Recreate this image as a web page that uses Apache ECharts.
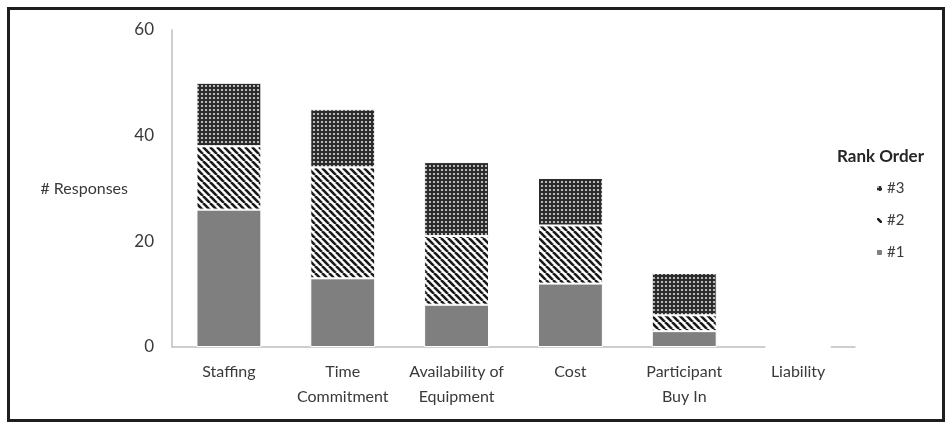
<!DOCTYPE html>
<html>
<head>
<meta charset="utf-8">
<script src="https://cdn.jsdelivr.net/npm/echarts@6/dist/echarts.min.js"></script>
<style>
  html, body { margin: 0; padding: 0; background: #fff; }
  #chart { width: 949px; height: 424px; }
</style>
</head>
<body>
<div id="chart"></div>
<script>
// Barriers ranked by respondents, stacked by rank
const categories = ['Staffing', 'Time\nCommitment', 'Availability of\nEquipment', 'Cost', 'Participant\nBuy In', 'Liability'];
const rank1 = [26, 13, 8, 12, 3, 0];
const rank2 = [12, 21, 13, 11, 3, 0];
const rank3 = [12, 11, 14, 9, 8, 0];
const seriesNames = ['#1', '#2', '#3'];
const legendOrder = ['#3', '#2', '#1'];
const yTicks = { min: 0, max: 60, interval: 20 };

// Fill patterns drawn on small canvases
function stripePattern() {
  const s = 7;
  const c = document.createElement('canvas');
  c.width = s; c.height = s;
  const g = c.getContext('2d');
  g.fillStyle = '#ffffff';
  g.fillRect(0, 0, s, s);
  g.strokeStyle = '#1a1a1a';
  g.lineWidth = 2.6;
  for (let k = -1; k <= 1; k++) {
    g.beginPath();
    g.moveTo(k * s, 0);
    g.lineTo(k * s + s, s);
    g.stroke();
  }
  return c;
}
function dotPattern() {
  const s = 4;
  const c = document.createElement('canvas');
  c.width = s; c.height = s;
  const g = c.getContext('2d');
  g.fillStyle = '#2b2b2b';
  g.fillRect(0, 0, s, s);
  g.fillStyle = '#dcdcdc';
  g.beginPath();
  g.arc(2, 2, 1.1, 0, Math.PI * 2);
  g.fill();
  return c;
}

const fills = [
  '#7f7f7f',
  { image: stripePattern(), repeat: 'repeat' },
  { image: dotPattern(), repeat: 'repeat' }
];
const values = [rank1, rank2, rank3];

const textColor = '#3a3a3a';
const font = 'Lato, "Open Sans", sans-serif';

const chart = echarts.init(document.getElementById('chart'), null, { renderer: 'canvas' });
chart.setOption({
  animation: false,
  backgroundColor: '#ffffff',
  textStyle: { fontFamily: font },
  graphic: [{
    type: 'rect',
    shape: { x: 8.5, y: 8.5, width: 935, height: 412 },
    style: { fill: 'none', stroke: '#1e1e1e', lineWidth: 3 },
    silent: true
  }],
  title: {
    text: 'Rank Order',
    left: 832, top: 143,
    textStyle: { fontFamily: font, fontSize: 17, fontWeight: 'bold', color: '#262626' }
  },
  legend: {
    data: legendOrder,
    orient: 'vertical',
    left: 870, top: 176,
    itemWidth: 7, itemHeight: 7,
    itemGap: 17,
    textStyle: { fontFamily: font, fontSize: 15, color: textColor, padding: [0, 0, 0, -1] }
  },
  grid: { left: 172, right: 94, top: 30, bottom: 77 },
  xAxis: {
    type: 'category',
    data: categories,
    axisLine: { lineStyle: { color: '#bfbfbf', width: 1.5 } },
    axisTick: { show: false },
    axisLabel: { fontFamily: font, fontSize: 16, color: textColor, lineHeight: 25, margin: 12, interval: 0 }
  },
  yAxis: {
    type: 'value',
    min: yTicks.min, max: yTicks.max, interval: yTicks.interval,
    name: '# Responses',
    nameLocation: 'middle',
    nameRotate: 0,
    nameGap: 44,
    nameTextStyle: { fontFamily: font, fontSize: 16, color: textColor, align: 'right', padding: [0, 0, 8, 0] },
    axisLine: { show: true, lineStyle: { color: '#bfbfbf', width: 1.5 } },
    axisTick: { show: false },
    splitLine: { show: false },
    axisLabel: { fontFamily: font, fontSize: 17, color: textColor, margin: 18 }
  },
  series: seriesNames.map((name, i) => ({
    name: name,
    type: 'bar',
    stack: 'rank',
    barWidth: '57%',
    data: values[i],
    itemStyle: { color: fills[i], borderColor: '#ffffff', borderWidth: 1 }
  }))
});
</script>
</body>
</html>
